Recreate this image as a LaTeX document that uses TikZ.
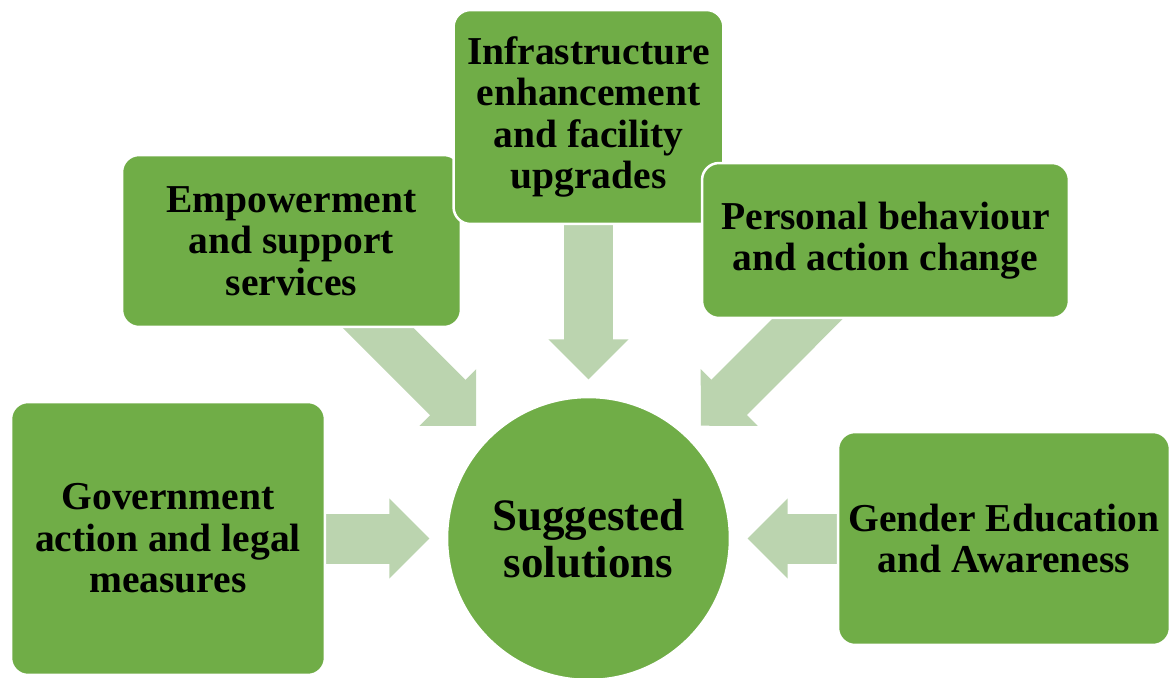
\documentclass[tikz,border=0pt]{standalone}
\usepackage{fontspec}
\setmainfont{Liberation Serif}
\usetikzlibrary{arrows.meta}
\usepackage{xcolor}
\definecolor{boxgreen}{RGB}{112,173,71}
\definecolor{arrowgreen}{RGB}{187,212,175}
\pgfdeclarelayer{back}
\pgfsetlayers{back,main}

\begin{document}
\begin{tikzpicture}[x=0.02cm, y=-0.02cm,
	main/.style = {draw=white, line width=0.05cm, fill=boxgreen, rounded corners=0.34cm, align=center, inner sep=0pt, font=\bfseries\fontsize{22.5}{23.6}\selectfont},
	hub/.style = {draw=white, line width=0.05cm, fill=boxgreen, circle, minimum size=5.66cm, align=center, inner sep=0pt, font=\bfseries\fontsize{25.6}{26.8}\selectfont},
	fat/.style = {draw=arrowgreen, line width=1cm, shorten <=-0.6cm, shorten >=0.33cm, -{Triangle[width=1.6cm,length=0.8cm,line width=1.2pt]}}]
	\useasboundingbox (0,0) rectangle (1171,677);
	\node[main, minimum width=6.78cm, minimum height=3.44cm] (emp) at (291.5,241) {Empowerment\\and support\\services};
	\node[main, minimum width=5.4cm, minimum height=4.28cm] (inf) at (588.5,117) {Infrastructure\\enhancement\\and facility\\upgrades};
	\node[main, minimum width=7.34cm, minimum height=3.1cm] (pers) at (885.5,240.5) {Personal behaviour\\and action change};
	\node[main, minimum width=6.28cm, minimum height=5.46cm] (gov) at (168,538.5) {Government\\action and legal\\measures};
	\node[main, minimum width=6.64cm, minimum height=4.26cm] (gen) at (1004,538.5) {Gender Education\\and Awareness};
	\node[hub] (sol) at (588.5,538.5) {Suggested\\solutions};
	\begin{pgfonlayer}{back}
	\draw[fat] (gov) -- (sol);
	\draw[fat] (emp) -- (sol);
	\draw[fat] (inf) -- (sol);
	\draw[fat] (pers) -- (sol);
	\draw[fat] (gen) -- (sol);
	\end{pgfonlayer}
\end{tikzpicture}
\end{document}
